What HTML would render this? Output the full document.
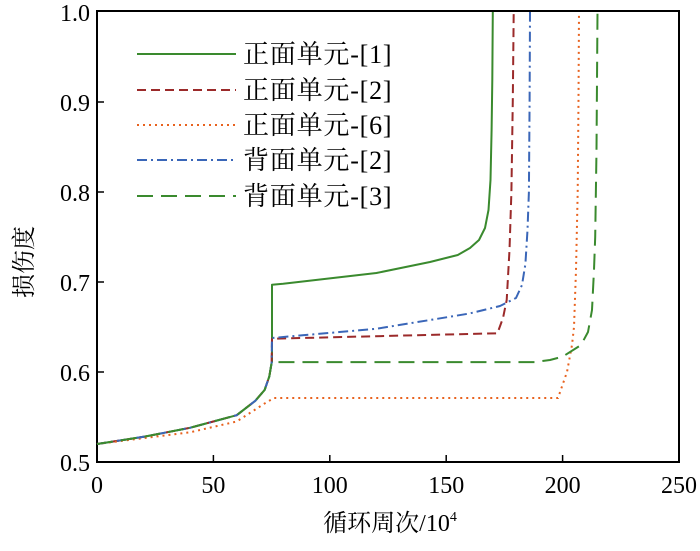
<!DOCTYPE html>
<html><head><meta charset="utf-8"><style>body{margin:0;background:#fff}</style></head><body>
<svg width="700" height="546" xmlns="http://www.w3.org/2000/svg" font-family="Liberation Serif, Noto Serif CJK SC, serif" font-size="24">
<rect x="97" y="11" width="582" height="451" fill="none" stroke="#000" stroke-width="2"/>
<g stroke="#000" stroke-width="1.5">
<line x1="213.4" y1="462" x2="213.4" y2="455"/><line x1="329.8" y1="462" x2="329.8" y2="455"/><line x1="446.2" y1="462" x2="446.2" y2="455"/><line x1="562.6" y1="462" x2="562.6" y2="455"/>
<line x1="97" y1="372" x2="104" y2="372"/><line x1="97" y1="282" x2="104" y2="282"/><line x1="97" y1="192" x2="104" y2="192"/><line x1="97" y1="102" x2="104" y2="102"/>
</g>
<g text-anchor="middle">
<text x="97" y="493">0</text><text x="213.4" y="493">50</text><text x="329.8" y="493">100</text><text x="446.2" y="493">150</text><text x="562.6" y="493">200</text><text x="679" y="493">250</text>
</g>
<g text-anchor="end">
<text x="90" y="471">0.5</text><text x="90" y="381">0.6</text><text x="90" y="291">0.7</text><text x="90" y="201">0.8</text><text x="90" y="111">0.9</text><text x="90" y="21">1.0</text>
</g>
<text x="390" y="531" text-anchor="middle" font-size="24">循环周次/10<tspan font-size="14" dy="-10">4</tspan></text>
<text transform="translate(32,262) rotate(-90)" text-anchor="middle" font-size="24">损伤度</text>
<g fill="none" stroke-width="2" stroke-linejoin="round">
<path stroke="#3a8a2e" d="M97,444 L143.6,436.8 L190,427.8 L236.7,415.2 L255.3,400.8 L264.6,390 L269.3,376.5 L271.6,363 L272,362 L272,284.7 L283.2,283.8 L376.4,273 L430,262 L457.8,255 L470,248 L479,240 L485,228 L488.5,210 L490.5,180 L491.6,130 L492.3,80 L492.8,12"/>
<path stroke="#9b2a2a" stroke-dasharray="9,5" d="M97,444 L143.6,436.8 L190,427.8 L236.7,415.2 L255.3,400.8 L264.6,390 L269.3,376.5 L271.6,363 L272,338.7 L497.4,333.3 L503,318 L506.7,300 L509.5,250 L511.4,192 L512.8,100 L513.7,12"/>
<path stroke="#e8621e" stroke-dasharray="2,4" d="M97,444 L190,432.3 L236.7,421.5 L264.6,403.5 L274,398 L558,398 L567,372 L572,345 L574,327 L576,270 L577.7,192 L578.5,100 L579,12"/>
<path stroke="#3a66b8" stroke-dasharray="10,4,2,4" d="M97,444 L143.6,436.8 L190,427.8 L236.7,415.2 L255.3,400.8 L264.6,390 L269.3,376.5 L271.6,363 L272,338 L376.4,328.8 L469.5,313.5 L500,306 L516,298 L522,285 L525.4,264 L527.5,230 L528.9,192 L529.6,100 L530,12"/>
<path stroke="#3a8a2e" stroke-dasharray="16,8" d="M97,444 L143.6,436.8 L190,427.8 L236.7,415.2 L255.3,400.8 L264.6,390 L269.3,376.5 L271.6,363 L272,362.1 L534.7,362.1 L550,360 L562.6,356.7 L581,345 L588,332 L592,310 L594,270 L595.2,237 L596.5,150 L597.5,12"/>
</g>
<g stroke-width="2">
<line x1="137" y1="54" x2="236" y2="54" stroke="#3a8a2e"/>
<line x1="137" y1="90" x2="236" y2="90" stroke="#9b2a2a" stroke-dasharray="9,5"/>
<line x1="137" y1="125" x2="236" y2="125" stroke="#e8621e" stroke-dasharray="2,4"/>
<line x1="137" y1="160" x2="236" y2="160" stroke="#3a66b8" stroke-dasharray="10,4,2,4"/>
<line x1="137" y1="196" x2="236" y2="196" stroke="#3a8a2e" stroke-dasharray="16,8"/>
</g>
<g font-size="26" letter-spacing="0.8">
<text x="243" y="63">正面单元-[1]</text>
<text x="243" y="99">正面单元-[2]</text>
<text x="243" y="134">正面单元-[6]</text>
<text x="243" y="169">背面单元-[2]</text>
<text x="243" y="205">背面单元-[3]</text>
</g>
</svg>
</body></html>
